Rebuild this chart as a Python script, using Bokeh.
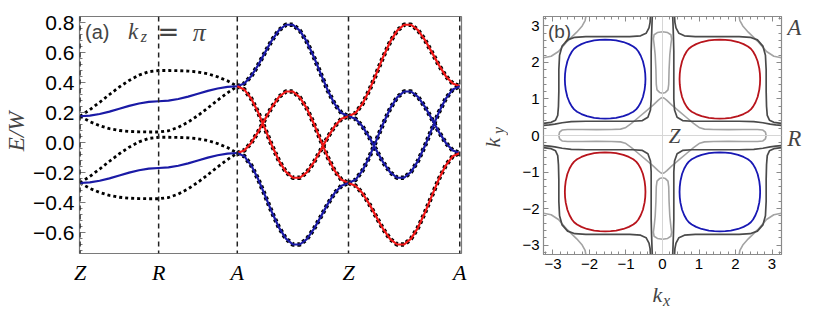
import numpy as np
from bokeh.plotting import figure
from bokeh.models import Label, Span, LinearAxis, FixedTicker, Range1d, CustomJSTickFormatter
from bokeh.layouts import row, column
from bokeh.embed import file_html
from bokeh.resources import INLINE

# ---------------- panel (a): band structure along Z-R-A-Z-A ----------------
path_names = ["Z", "R", "A", "Z", "A"]
seg_lengths = [np.pi, np.pi, np.pi * np.sqrt(2), np.pi * np.sqrt(2)]

# Z -> R -> A (17 samples, R is the 9th)
blue_up_ZRA = [0.175, 0.179, 0.190, 0.206, 0.225, 0.244, 0.260, 0.271, 0.275,
               0.279, 0.290, 0.306, 0.325, 0.344, 0.360, 0.371, 0.375]
dot_up_hi_ZRA = [0.175, 0.219, 0.268, 0.320, 0.370, 0.414, 0.449, 0.472, 0.480,
                 0.480, 0.479, 0.476, 0.470, 0.458, 0.438, 0.411, 0.375]
dot_up_lo_ZRA = [0.175, 0.139, 0.112, 0.092, 0.080, 0.074, 0.071, 0.070, 0.070,
                 0.078, 0.101, 0.136, 0.180, 0.230, 0.282, 0.331, 0.375]
blue_dn_ZRA = [-0.270, -0.266, -0.255, -0.239, -0.220, -0.201, -0.185, -0.174, -0.170,
               -0.166, -0.155, -0.139, -0.120, -0.101, -0.085, -0.074, -0.070]
dot_dn_hi_ZRA = [-0.270, -0.226, -0.177, -0.125, -0.075, -0.031, 0.004, 0.027, 0.035,
                 0.035, 0.034, 0.031, 0.025, 0.013, -0.007, -0.034, -0.070]
dot_dn_lo_ZRA = [-0.270, -0.306, -0.333, -0.353, -0.365, -0.371, -0.374, -0.375, -0.375,
                 -0.367, -0.344, -0.309, -0.265, -0.215, -0.163, -0.114, -0.070]

# A -> Z (17 samples); the Z -> A segment is its mirror image
band1_AZ = [0.375, 0.393, 0.442, 0.516, 0.601, 0.683, 0.749, 0.785, 0.785,
            0.746, 0.672, 0.572, 0.459, 0.349, 0.257, 0.196, 0.175]
band2_AZ = [0.375, 0.354, 0.293, 0.201, 0.091, -0.022, -0.122, -0.196, -0.235,
            -0.235, -0.199, -0.133, -0.051, 0.034, 0.108, 0.158, 0.175]
band3_AZ = [-0.070, -0.053, -0.003, 0.071, 0.156, 0.238, 0.304, 0.340, 0.340,
            0.301, 0.227, 0.127, 0.014, -0.096, -0.188, -0.249, -0.270]
band4_AZ = [-0.070, -0.091, -0.152, -0.244, -0.354, -0.467, -0.567, -0.641, -0.680,
            -0.680, -0.644, -0.578, -0.496, -0.411, -0.337, -0.288, -0.270]
colors_AZ = ["blue", "red", "red", "blue"]
colors_ZA = ["red", "blue", "blue", "red"]

BLUE = "#1a1aa6"
RED = "#f01818"
cmap = {"blue": BLUE, "red": RED}

path_nodes = np.concatenate([[0.0], np.cumsum(seg_lengths)])
x_ZRA = np.concatenate([np.linspace(path_nodes[0], path_nodes[1], 9),
                        np.linspace(path_nodes[1], path_nodes[2], 9)[1:]])
x_AZ = np.linspace(path_nodes[2], path_nodes[3], 17)
x_ZA = np.linspace(path_nodes[3], path_nodes[4], 17)


def helper(w, h, left=0, right=0, top=0, bottom=0):
    f = figure(frame_width=w, frame_height=h, x_range=Range1d(0, w), y_range=Range1d(0, h),
               toolbar_location=None, output_backend="svg",
               min_border_left=left, min_border_right=right, min_border_top=top, min_border_bottom=bottom,
               x_axis_location=None, y_axis_location=None, outline_line_color=None)
    f.grid.visible = False
    return f


pa = figure(frame_width=382, frame_height=237, output_backend="svg", toolbar_location=None,
            x_range=Range1d(-0.02, 15.24), y_range=Range1d(-0.74, 0.84),
            min_border_left=49, min_border_right=17, min_border_top=16, min_border_bottom=65)
pa.xgrid.visible = False
pa.ygrid.visible = False
pa.outline_line_color = "#7a7a7a"
pa.outline_line_width = 1.2

for xv in path_nodes:
    pa.add_layout(Span(location=float(xv), dimension="height", line_color="#222222",
                       line_width=1.5, line_dash="5 4"))

for ys in [dot_up_hi_ZRA, dot_up_lo_ZRA, dot_dn_hi_ZRA, dot_dn_lo_ZRA]:
    pa.line(x_ZRA, ys, line_color="black", line_width=2.8, line_dash="3 3")
for ys in [band1_AZ, band2_AZ, band3_AZ, band4_AZ]:
    pa.line(x_AZ, ys, line_color="black", line_width=4.5, line_dash="3 3")
    pa.line(x_ZA, ys[::-1], line_color="black", line_width=4.5, line_dash="3 3")

pa.line(x_ZRA, blue_up_ZRA, line_color=BLUE, line_width=2.2)
pa.line(x_ZRA, blue_dn_ZRA, line_color=BLUE, line_width=2.2)
for ys, c in zip([band1_AZ, band2_AZ, band3_AZ, band4_AZ], colors_AZ):
    pa.line(x_AZ, ys, line_color=cmap[c], line_width=2.2)
for ys, c in zip([band1_AZ, band2_AZ, band3_AZ, band4_AZ], colors_ZA):
    pa.line(x_ZA, ys[::-1], line_color=cmap[c], line_width=2.2)

pa.xaxis.ticker = FixedTicker(ticks=[float(v) for v in path_nodes])
pa.xaxis.formatter = CustomJSTickFormatter(args=dict(labels=path_names), code="return labels[index]")
pa.xaxis.major_tick_in = 0
pa.xaxis.major_tick_out = 0
pa.xaxis.minor_tick_in = 0
pa.xaxis.minor_tick_out = 0
pa.xaxis.axis_line_color = None
pa.xaxis.major_label_text_font = "Liberation Serif"
pa.xaxis.major_label_text_font_style = "italic"
pa.xaxis.major_label_text_font_size = "22px"
pa.xaxis.major_label_text_color = "black"
pa.xaxis.major_label_standoff = 6

pa.yaxis.ticker = FixedTicker(ticks=[-0.6, -0.4, -0.2, 0.0, 0.2, 0.4, 0.6, 0.8],
                              minor_ticks=[round(-0.72 + 0.04 * i, 2) for i in range(40)])
pa.yaxis.major_tick_in = 6
pa.yaxis.major_tick_out = 0
pa.yaxis.minor_tick_in = 3
pa.yaxis.minor_tick_out = 0
pa.yaxis.major_tick_line_color = "#7a7a7a"
pa.yaxis.minor_tick_line_color = "#7a7a7a"
pa.yaxis.axis_line_color = "#7a7a7a"
pa.yaxis.major_label_text_font = "Liberation Sans"
pa.yaxis.major_label_text_font_size = "21px"
pa.yaxis.major_label_text_color = "black"
pa.yaxis.major_label_standoff = 5
pa.yaxis.formatter = CustomJSTickFormatter(code="return tick.toFixed(1).replace('-', '\u2212')")

pa.add_layout(Label(x=0.2, y=0.74, text="(a)", text_align="left", text_baseline="middle",
                    text_font="Liberation Sans", text_font_size="20px"))
pa.add_layout(Label(x=1.92, y=0.74, text="k", text_align="left", text_baseline="middle",
                    text_font="Liberation Serif", text_font_style="italic", text_font_size="23px"))
pa.add_layout(Label(x=2.43, y=0.705, text="z", text_align="left", text_baseline="middle",
                    text_font="Liberation Serif", text_font_style="italic", text_font_size="16px"))
pa.add_layout(Label(x=3.1, y=0.735, text="=", text_align="left", text_baseline="middle",
                    text_font="DejaVu Sans", text_font_size="26px"))
pa.add_layout(Label(x=4.5, y=0.735, text="\u03c0", text_align="left", text_baseline="middle",
                    text_font="Liberation Serif", text_font_style="italic", text_font_size="26px"))

# y-axis title of panel (a) in its own strip (same vertical borders as panel a)
ew = helper(30, 237, top=16, bottom=65)
ew.add_layout(Label(x=15.5, y=122, text="E/W", angle=np.pi / 2, text_align="center",
                    text_baseline="middle", text_font="Liberation Serif",
                    text_font_style="italic", text_font_size="23px"))

# ---------------- panel (b): contours in the kx-ky plane ----------------
pocket_du = [0.000, 0.150, 0.300, 0.500, 0.650, 0.770, 0.850, 0.910, 0.975, 1.035, 1.080, 1.098, 1.104]
pocket_dv = [1.080, 1.076, 1.060, 1.016, 0.958, 0.893, 0.830, 0.755, 0.640, 0.490, 0.294, 0.147, 0.000]
pocket_centres = [(-1.571, 1.545), (1.571, 1.545), (-1.571, -1.545), (1.571, -1.545)]
pocket_colours = ["blue", "red", "red", "blue"]

darkA_x = [-3.26, -3.05, -2.93, -2.87, -2.85, -2.84, -2.84, -2.82, -2.75, -2.60, -2.40, -2.10,
           -1.50, -0.90, -0.60, -0.45, -0.37, -0.34, -0.33]
darkA_y = [0.33, 0.36, 0.42, 0.55, 0.80, 1.20, 1.80, 2.20, 2.45, 2.62, 2.69, 2.71,
           2.71, 2.71, 2.73, 2.80, 2.95, 3.10, 3.26]
darkB_x = [-0.28, -0.29, -0.30, -0.31, -0.31, -0.31, -0.33, -0.40, -0.55, -0.80, -1.50, -2.10,
           -2.50, -2.75, -2.95, -3.10, -3.26]
darkB_y = [3.26, 3.00, 2.70, 2.30, 1.50, 1.00, 0.70, 0.50, 0.41, 0.39, 0.39, 0.39,
           0.38, 0.35, 0.31, 0.29, 0.28]

star_x = [2.84, 2.82, 2.75, 2.60, 2.20, 1.80, 1.40, 1.15, 1.02, 0.85, 0.65, 0.45, 0.25, 0.12, 0.05, 0.00]
star_y = [0.00, 0.09, 0.15, 0.165, 0.165, 0.16, 0.165, 0.175, 0.21, 0.33, 0.50, 0.67, 0.84, 0.96, 1.02, 1.04]
varm_x = [0.00, 0.08, 0.15, 0.17, 0.18, 0.20, 0.23, 0.25, 0.23, 0.14, 0.00]
varm_y = [1.16, 1.18, 1.25, 1.40, 1.80, 2.20, 2.50, 2.65, 2.76, 2.82, 2.84]
corner_x = [-3.26, -3.05, -2.85, -2.61, -2.35, -2.20, -2.12, -2.10]
corner_y = [2.13, 2.17, 2.30, 2.58, 2.83, 3.00, 3.15, 3.26]

P_BLUE = "#1818b4"
P_RED = "#b8141c"
DARK = "#4a4a4a"
LIGHT = "#a3a3a3"
pcmap = {"blue": P_BLUE, "red": P_RED}


def full_loop(du, dv):
    q = list(zip(du, dv))
    pts = q + [(u, -v) for u, v in reversed(q)][1:] + [(-u, -v) for u, v in q][1:] + \
        [(-u, v) for u, v in reversed(q)][1:]
    return [p[0] for p in pts], [p[1] for p in pts]


pb = figure(frame_width=238, frame_height=238, output_backend="svg", toolbar_location=None,
            x_range=Range1d(-3.26, 3.26), y_range=Range1d(-3.26, 3.26),
            min_border_left=35, min_border_right=5, min_border_top=16, min_border_bottom=24)
pb.xgrid.visible = False
pb.ygrid.visible = False
pb.outline_line_color = "#8a8a8a"
pb.outline_line_width = 1.2

pb.add_layout(Span(location=0, dimension="width", line_color="#d6d6d6", line_width=1))
pb.add_layout(Span(location=0, dimension="height", line_color="#d6d6d6", line_width=1))

sx_, sy_ = full_loop(star_x[::-1], star_y[::-1])
pb.line(sx_, sy_, line_color=LIGHT, line_width=1.6)
vx_full = [-v for v in varm_x[::-1]] + varm_x[1:]
vy_full = varm_y[::-1] + varm_y[1:]
for s in (1, -1):
    pb.line(vx_full, [s * v for v in vy_full], line_color=LIGHT, line_width=1.6)
for s1 in (1, -1):
    for s2 in (1, -1):
        pb.line([s1 * v for v in corner_x], [s2 * v for v in corner_y], line_color=LIGHT, line_width=1.6)

for s1 in (1, -1):
    for s2 in (1, -1):
        pb.line([s1 * v for v in darkA_x], [s2 * v for v in darkA_y], line_color=DARK, line_width=1.7)
        pb.line([s1 * v for v in darkB_x], [s2 * v for v in darkB_y], line_color=DARK, line_width=1.7)
px_, py_ = full_loop(pocket_du, pocket_dv)
for (cx, cy), c in zip(pocket_centres, pocket_colours):
    pb.line([cx + v for v in px_], [cy + v for v in py_], line_color=pcmap[c], line_width=1.8)

ticks3 = [-3, -2, -1, 0, 1, 2, 3]
minor3 = [round(-3.2 + 0.2 * i, 1) for i in range(33)]
for ax in [pb.xaxis[0], pb.yaxis[0]]:
    ax.ticker = FixedTicker(ticks=ticks3, minor_ticks=minor3)
    ax.major_tick_in = 5
    ax.major_tick_out = 0
    ax.minor_tick_in = 3
    ax.minor_tick_out = 0
    ax.major_tick_line_color = "#8a8a8a"
    ax.minor_tick_line_color = "#8a8a8a"
    ax.axis_line_color = "#8a8a8a"
    ax.major_label_text_font = "Liberation Sans"
    ax.major_label_text_font_size = "15px"
    ax.major_label_text_color = "black"
    ax.major_label_standoff = 4
    ax.formatter = CustomJSTickFormatter(code="return String(tick).replace('-', '\u2212')")
for loc in ["right", "above"]:
    ax = LinearAxis(ticker=FixedTicker(ticks=ticks3, minor_ticks=minor3))
    ax.major_tick_in = 5
    ax.major_tick_out = 0
    ax.minor_tick_in = 3
    ax.minor_tick_out = 0
    ax.major_tick_line_color = "#8a8a8a"
    ax.minor_tick_line_color = "#8a8a8a"
    ax.axis_line_color = "#8a8a8a"
    ax.formatter = CustomJSTickFormatter(code="return ''")
    ax.major_label_standoff = 0
    pb.add_layout(ax, loc)

pb.add_layout(Label(x=-3.14, y=2.85, text="(b)", text_align="left", text_baseline="middle",
                    text_font="Liberation Sans", text_font_size="19px"))
pb.add_layout(Label(x=0.17, y=0.0, text="Z", text_align="left", text_baseline="middle",
                    text_font="Liberation Serif", text_font_style="italic", text_font_size="21px"))

# axis titles and point names of panel (b) in their own strips
ky_strip = helper(30, 238, top=16, bottom=64)
ky_strip.add_layout(Label(x=14, y=112, text="k", angle=np.pi / 2, text_align="center", text_baseline="middle",
                          text_font="Liberation Serif", text_font_style="italic", text_font_size="22px"))
ky_strip.add_layout(Label(x=19.5, y=124, text="y", angle=np.pi / 2, text_align="center", text_baseline="middle",
                          text_font="Liberation Serif", text_font_style="italic", text_font_size="16px"))

kx_strip = helper(238, 40, left=35, right=5)
kx_strip.add_layout(Label(x=114, y=24, text="k", text_align="center", text_baseline="middle",
                          text_font="Liberation Serif", text_font_style="italic", text_font_size="22px"))
kx_strip.add_layout(Label(x=123, y=18, text="x", text_align="center", text_baseline="middle",
                          text_font="Liberation Serif", text_font_style="italic", text_font_size="16px"))

right_strip = helper(28, 238, top=16, bottom=64)
right_strip.add_layout(Label(x=0.7, y=227, text="A", text_align="left", text_baseline="middle",
                             text_font="Liberation Serif", text_font_style="italic", text_font_size="23px"))
right_strip.add_layout(Label(x=0.7, y=116, text="R", text_align="left", text_baseline="middle",
                             text_font="Liberation Serif", text_font_style="italic", text_font_size="23px"))

layout = row(ew, pa, ky_strip, column(pb, kx_strip), right_strip)
open("out.html", "w").write(file_html(layout, INLINE))
